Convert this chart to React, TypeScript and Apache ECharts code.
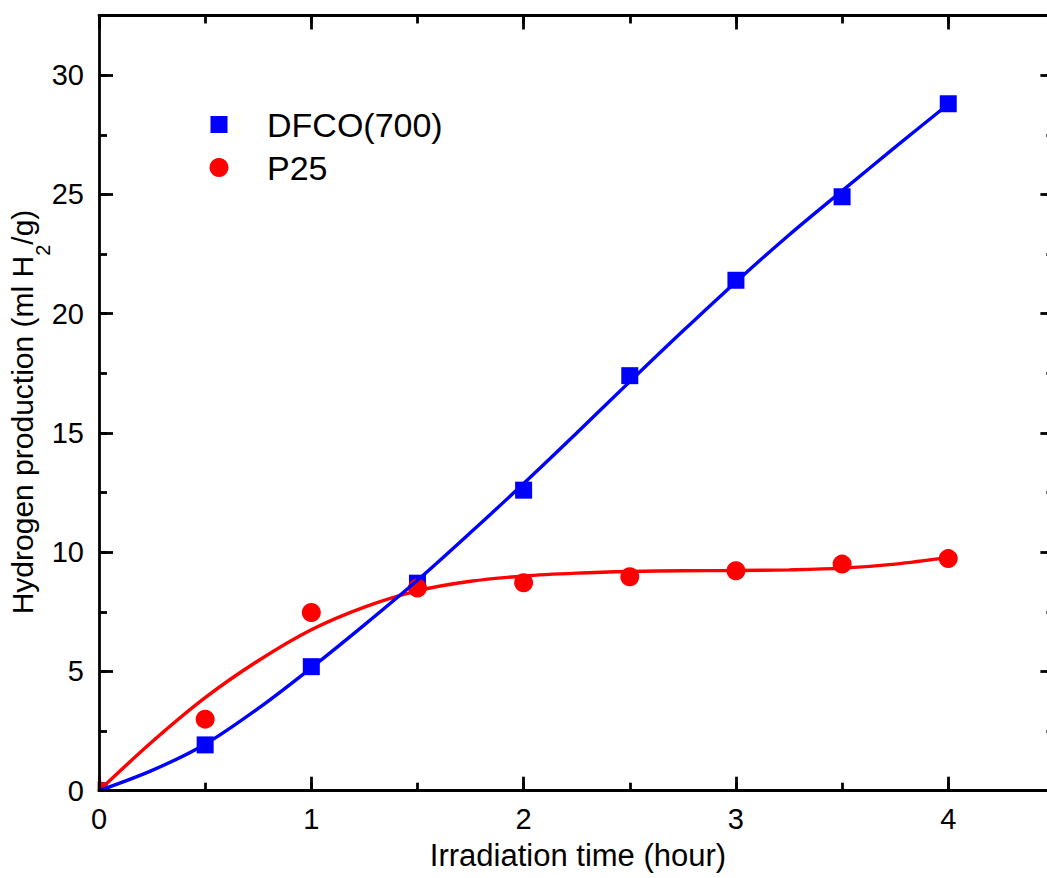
import React, { useEffect, useRef } from 'react';
import * as echarts from 'echarts';

const timeHours = [0, 0.5, 1, 1.5, 2, 2.5, 3, 3.5, 4];
const dfcoValues = [0, 1.92, 5.2, 8.7, 12.6, 17.4, 21.4, 24.9, 28.8];
const p25Values = [0, 3.0, 7.47, 8.5, 8.72, 8.97, 9.22, 9.5, 9.73];

const fitTimes = [0, 0.25, 0.5, 0.75, 1, 1.25, 1.5, 1.75, 2, 2.25, 2.5, 2.75, 3, 3.25, 3.5, 3.75, 4];
const dfcoFit = [0, 0.85, 1.95, 3.45, 5.15, 6.95, 8.82, 10.82, 12.88, 15.0, 17.15, 19.27, 21.33, 23.3, 25.15, 26.98, 28.78];
const p25Fit = [0, 2.05, 3.9, 5.45, 6.75, 7.7, 8.38, 8.78, 9.0, 9.12, 9.19, 9.22, 9.23, 9.26, 9.33, 9.5, 9.78];

const xTickLabels = ['0', '1', '2', '3', '4'];
const yTickLabels = ['0', '5', '10', '15', '20', '25', '30'];

const seriesNames = ['DFCO(700)', 'P25'];
const xTitle = 'Irradiation time (hour)';

const FONT = '"Liberation Sans", Arial, Helvetica, sans-serif';
const BLUE = '#0000ff';
const RED = '#ff0000';

export default function App() {
  const ref = useRef<HTMLDivElement>(null);

  useEffect(() => {
    if (!ref.current) return;
    const chart = echarts.init(ref.current, undefined, { renderer: 'svg' });

    const lineStyle = { color: '#000', width: 2.8 };
    const mkX = (pos: 'top' | 'bottom', major: boolean, labels: boolean) => ({
      type: 'value',
      position: pos,
      min: 0,
      max: 4.5,
      z: 10,
      interval: major ? 1 : 0.5,
      axisLine: { show: major, onZero: false, lineStyle },
      axisTick: { show: true, inside: true, length: major ? 14 : 8, lineStyle },
      axisLabel: {
        show: labels,
        margin: 14,
        fontSize: 29,
        color: '#000',
        fontFamily: FONT,
        formatter: (v: number) => (xTickLabels.includes(String(v)) ? String(v) : ''),
      },
      splitLine: { show: false },
    });
    const mkY = (pos: 'left' | 'right', major: boolean, labels: boolean) => ({
      type: 'value',
      position: pos,
      min: 0,
      max: 32.5,
      z: 10,
      interval: major ? 5 : 2.5,
      axisLine: { show: major, onZero: false, lineStyle },
      axisTick: { show: true, inside: true, length: major ? 14 : 8, lineStyle },
      axisLabel: {
        show: labels,
        margin: 15,
        fontSize: 29,
        color: '#000',
        fontFamily: FONT,
        formatter: (v: number) => (yTickLabels.includes(String(v)) ? String(v) : ''),
      },
      splitLine: { show: false },
    });

    const toPairs = (xs: number[], ys: number[]) => xs.map((x, i) => [x, ys[i]]);

    chart.setOption({
      animation: false,
      backgroundColor: '#fff',
      grid: { left: 99, top: 15.5, width: 955.4, height: 775.2, containLabel: false },
      xAxis: [mkX('bottom', true, true), mkX('bottom', false, false), mkX('top', true, false), mkX('top', false, false)],
      yAxis: [mkY('left', true, true), mkY('left', false, false), mkY('right', true, false), mkY('right', false, false)],
      series: [
        {
          name: seriesNames[0],
          type: 'scatter',
          symbol: 'rect',
          symbolSize: 17,
          itemStyle: { color: BLUE, opacity: 1 },
          data: toPairs(timeHours, dfcoValues),
          z: 2,
        },
        {
          name: seriesNames[1],
          type: 'scatter',
          symbol: 'circle',
          symbolSize: 19,
          itemStyle: { color: RED, opacity: 1 },
          data: toPairs(timeHours, p25Values),
          z: 2,
        },
        {
          name: seriesNames[1] + ' fit',
          type: 'line',
          smooth: 0.33,
          showSymbol: false,
          lineStyle: { color: RED, width: 3.4 },
          data: toPairs(fitTimes, p25Fit),
          z: 3,
        },
        {
          name: seriesNames[0] + ' fit',
          type: 'line',
          smooth: 0.33,
          showSymbol: false,
          lineStyle: { color: BLUE, width: 3.4 },
          data: toPairs(fitTimes, dfcoFit),
          z: 3,
        },
      ],
      graphic: [
        {
          type: 'rect',
          z: 5,
          shape: { x: 84, y: 770, width: 13.6, height: 34 },
          style: { fill: '#fff' },
        },
        {
          type: 'rect',
          z: 5,
          shape: { x: 84, y: 792.1, width: 40, height: 10 },
          style: { fill: '#fff' },
        },
        {
          type: 'text',
          x: 578,
          y: 855,
          style: { text: xTitle, fontSize: 31, fontFamily: FONT, fill: '#000', align: 'center', verticalAlign: 'middle' },
        },
        {
          type: 'text',
          x: 30,
          y: 412,
          rotation: Math.PI / 2,
          style: {
            text: '{a|Hydrogen production (ml H}{s|2}{a|/g)}',
            fill: '#000',
            align: 'center',
            verticalAlign: 'middle',
            rich: {
              a: { fontSize: 30, fontFamily: FONT, lineHeight: 32, verticalAlign: 'top', fill: '#000' },
              s: { fontSize: 20, fontFamily: FONT, lineHeight: 45, verticalAlign: 'bottom', fill: '#000' },
            },
          },
        },
        {
          type: 'rect',
          shape: { x: 210.5, y: 116, width: 17, height: 17 },
          style: { fill: BLUE },
        },
        {
          type: 'circle',
          shape: { cx: 219, cy: 167.5, r: 9.5 },
          style: { fill: RED },
        },
        {
          type: 'text',
          x: 267,
          y: 124.5,
          style: { text: seriesNames[0], fontSize: 34, fontFamily: FONT, fill: '#000', align: 'left', verticalAlign: 'middle' },
        },
        {
          type: 'text',
          x: 267,
          y: 168,
          style: { text: seriesNames[1], fontSize: 34, fontFamily: FONT, fill: '#000', align: 'left', verticalAlign: 'middle' },
        },
      ],
    });

    return () => chart.dispose();
  }, []);

  return (
    <div style={{ position: 'absolute', left: 0, top: 0, width: 1047, height: 878, overflow: 'hidden', background: '#fff' }}>
      <div ref={ref} style={{ position: 'absolute', left: 0, top: 0, width: 1064, height: 878 }} />
    </div>
  );
}
